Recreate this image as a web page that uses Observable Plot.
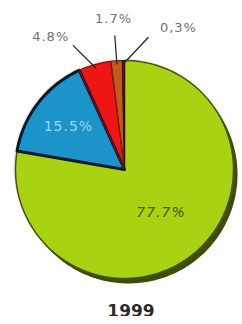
<!DOCTYPE html>
<html>
<head>
<meta charset="utf-8">
<script src="https://cdn.jsdelivr.net/npm/d3@7"></script>
<script src="https://cdn.jsdelivr.net/npm/@observablehq/plot@0.6"></script>
<style>
  html, body { margin: 0; padding: 0; background: #ffffff; }
  #chart { width: 242px; }
  #chart svg text { letter-spacing: 1px; }
  .caption { width: 242px; box-sizing: border-box; padding-left: 20px; padding-top: 8px; text-align: center;
             font: bold 17px "DejaVu Sans", sans-serif; color: #2a2a2a; line-height: 22px; height: 24px; }
</style>
</head>
<body>
<div id="chart"></div>
<div class="caption" id="cap"></div>
<script>
// ---- data ----
const year = "1999";
const shares = [77.7, 15.5, 4.8, 1.7, 0.3];
const shareLabels = ["77.7%", "15.5%", "4.8%", "1.7%", "0,3%"];
const sliceColors = ["#a9d213", "#1b94ca", "#ee1515", "#c25a1e", "#7e1d12"];
const rimColors = ["#44540a", "#061a2c", "#8a0a0a", "#6a2a0a", "#3a0a06"];

// ---- geometry (unit circle, angles clockwise from 12 o'clock) ----
const arcs = d3.pie().sort(null).value(d => d)(shares);
const pt = (a, r) => [r * Math.sin(a), -r * Math.cos(a)];
function ringFor(a0, a1, withCenter) {
  const n = Math.max(2, Math.ceil((a1 - a0) / 0.02));
  const ring = withCenter ? [[0, 0]] : [];
  for (let i = 0; i <= n; i++) ring.push(pt(a0 + (a1 - a0) * i / n, 1));
  ring.push(ring[0]);
  return ring;
}
const slices = arcs.map((a, i) => ({
  type: "Feature",
  properties: {label: shareLabels[i], rim: rimColors[i]},
  geometry: {type: "Polygon", coordinates: [ringFor(a.startAngle, a.endAngle, true)]}
}));
const disc = {type: "Polygon", coordinates: [ringFor(0, 2 * Math.PI, false)]};

// label placement
const mid = arcs.map(a => (a.startAngle + a.endAngle) / 2);
const small = arcs.map((a, i) => i).filter(i => shares[i] < 10);
const centerIdx = small[Math.floor(small.length / 2)];
const step = 25 * Math.PI / 180;
const outside = small.map((i, k) => {
  const la = mid[centerIdx] + (k - (small.length - 1) / 2) * step;
  const ma = mid[i];
  const oa = (la + ma) / 2;
  const [x, y] = pt(la, 1.39);
  return {label: shareLabels[i], x, y,
          line: {type: "LineString", coordinates: [pt(ma, 0.97), pt(oa, 1.23)]}};
});
const insideIdx = arcs.map((a, i) => i).filter(i => shares[i] >= 10);
const inside = insideIdx.map(i => {
  const [x, y] = pt(mid[i], i === 0 ? 0.52 : 0.65);
  return {label: shareLabels[i], x, y, i};
});

const chart = Plot.plot({
  width: 242,
  height: 292,
  marginLeft: 15,
  marginRight: 9,
  marginTop: 60,
  marginBottom: 14,
  projection: {type: "identity", domain: disc, clip: false},
  color: {domain: shareLabels, range: sliceColors},
  style: {fontFamily: "DejaVu Sans, sans-serif", background: "#ffffff"},
  marks: [
    Plot.geo([disc], {fill: "#d8d8d8", dx: -2, dy: -2, fillOpacity: 0.6}),
    Plot.geo([disc], {fill: "#3e4c06", dx: 4, dy: 5}),
    Plot.geo(slices, {fill: d => d.properties.label}),
    Plot.geo([slices[0]], {stroke: rimColors[0], strokeWidth: 1.5, strokeLinejoin: "round"}),
    ...slices.slice(1).map((s, i) => Plot.geo([s], {stroke: rimColors[i + 1], strokeWidth: i === 0 ? 3 : 1.2, strokeLinejoin: "round"})),
    Plot.geo(outside.map(d => d.line), {stroke: "#222", strokeWidth: 1.2}),
    Plot.text(outside, {x: "x", y: "y", text: "label", fill: "#707070", fontSize: 13}),
    Plot.text(inside.filter(d => d.i === 1), {x: "x", y: "y", text: "label", fill: "#9fd6f0", fontSize: 14}),
    Plot.text(inside.filter(d => d.i === 0), {x: "x", y: "y", text: "label", fill: "#3f5a0c", fontSize: 14, fontStyle: "italic"})
  ]
});
document.getElementById("chart").append(chart);
document.getElementById("cap").textContent = year;
</script>
</body>
</html>
